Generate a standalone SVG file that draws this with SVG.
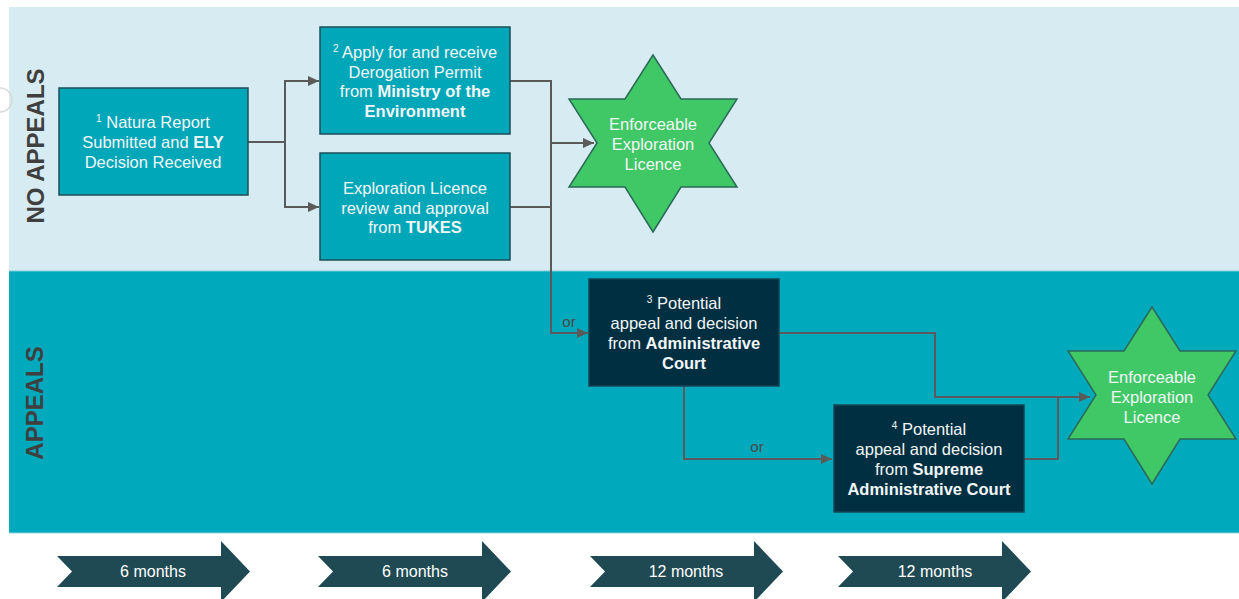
<svg xmlns="http://www.w3.org/2000/svg" width="1239" height="599" viewBox="0 0 1239 599">
<style>
text{font-family:"Liberation Sans",Arial,sans-serif}
.nt{font-size:16.5px;fill:#F2F6F7;text-anchor:middle}
.b{font-weight:bold}
.sup{font-size:10px}
.teal{fill:#00A7B9;stroke:#1E4D58;stroke-width:1.5}
.dark{fill:#002F42;stroke:#164556;stroke-width:1.5}
.star{fill:#40C866;stroke:#2A6A58;stroke-width:1.5}
.lane{font-size:24px;font-weight:bold;fill:#3F3F3F;text-anchor:middle}
.conn{fill:none;stroke:#5A5A5A;stroke-width:2}
.or{font-size:15px;fill:#4A4A4A;text-anchor:middle}
.chev{fill:#1F4A53}
.ct{font-size:16px;fill:#FFFFFF;text-anchor:middle}
</style>
<defs>
<marker id="ah" markerUnits="userSpaceOnUse" markerWidth="11" markerHeight="11" viewBox="0 0 10 10" refX="10" refY="5" orient="auto">
<path d="M0,0.5 L10,5 L0,9.5 Z" fill="#5A5A5A"/>
</marker>
<path id="starShape" d="M653,55 L681,99 L737,99 L709,143 L737,187 L681,187 L653,232 L625,187 L569,187 L597,143 L569,99 L625,99 Z"/>
<path id="chevShape" d="M57,556 H221 V541 L250,571.5 L221,602 V587 H57 L72,571.5 Z"/>
</defs>
<rect width="1239" height="599" fill="#FFFFFF"/>
<g id="lanes">
<rect x="9" y="7" width="1230" height="264" fill="#D7ECF2"/>
<rect x="9" y="271" width="1230" height="262" fill="#00A9BB"/>
<line x1="9" y1="271" x2="1239" y2="271" stroke="#7FCCD8" stroke-width="1"/>
<line x1="9" y1="533" x2="1239" y2="533" stroke="#8ED3DE" stroke-width="1"/>
<path d="M0,88 A12,12 0 0 1 0,112" fill="none" stroke="#D8D8D8" stroke-width="1.5"/>
<text class="lane" transform="translate(44,146) rotate(-90)">NO APPEALS</text>
<text class="lane" transform="translate(43,403) rotate(-90)">APPEALS</text>
</g>
<g id="connectors">
<path class="conn" d="M248,142 H285 V81 H319" marker-end="url(#ah)"/>
<path class="conn" d="M285,142 V207 H319" marker-end="url(#ah)"/>
<path class="conn" d="M510,81 H551 V333 H588" marker-end="url(#ah)"/>
<path class="conn" d="M510,207 H551"/>
<path class="conn" d="M551,143 H594" marker-end="url(#ah)"/>
<path class="conn" d="M779,333 H935 V397 H1090" marker-end="url(#ah)"/>
<path class="conn" d="M684,386 V459 H832" marker-end="url(#ah)"/>
<path class="conn" d="M1024,459 H1058 V397"/>
<text class="or" x="569" y="327">or</text>
<text class="or" x="757" y="452">or</text>
</g>
<g id="node1">
<rect class="teal" x="59" y="88" width="189" height="107"/>
<text class="nt" x="153" y="128"><tspan class="sup" dy="-6">1</tspan><tspan dy="6"> Natura Report</tspan></text>
<text class="nt" x="153" y="148">Submitted and <tspan class="b">ELY</tspan></text>
<text class="nt" x="153" y="168">Decision Received</text>
</g>
<g id="node2">
<rect class="teal" x="320" y="27" width="190" height="107"/>
<text class="nt" x="415" y="58"><tspan class="sup" dy="-6">2</tspan><tspan dy="6"> Apply for and receive</tspan></text>
<text class="nt" x="415" y="77.5">Derogation Permit</text>
<text class="nt" x="415" y="97">from <tspan class="b">Ministry of the</tspan></text>
<text class="nt" x="415" y="117" font-weight="bold">Environment</text>
</g>
<g id="node3">
<rect class="teal" x="320" y="153" width="190" height="107"/>
<text class="nt" x="415" y="194">Exploration Licence</text>
<text class="nt" x="415" y="213.5">review and approval</text>
<text class="nt" x="415" y="233">from <tspan class="b">TUKES</tspan></text>
</g>
<g id="star1">
<use href="#starShape" class="star"/>
<text class="nt" x="653" y="130">Enforceable</text>
<text class="nt" x="653" y="150">Exploration</text>
<text class="nt" x="653" y="170">Licence</text>
</g>
<g id="node4">
<rect class="dark" x="589" y="279" width="190" height="107"/>
<text class="nt" x="684" y="309"><tspan class="sup" dy="-6">3</tspan><tspan dy="6"> Potential</tspan></text>
<text class="nt" x="684" y="329">appeal and decision</text>
<text class="nt" x="684" y="349">from <tspan class="b">Administrative</tspan></text>
<text class="nt" x="684" y="369" font-weight="bold">Court</text>
</g>
<g id="node5">
<rect class="dark" x="834" y="405" width="190" height="107"/>
<text class="nt" x="929" y="435"><tspan class="sup" dy="-6">4</tspan><tspan dy="6"> Potential</tspan></text>
<text class="nt" x="929" y="455">appeal and decision</text>
<text class="nt" x="929" y="475">from <tspan class="b">Supreme</tspan></text>
<text class="nt" x="929" y="495" font-weight="bold">Administrative Court</text>
</g>
<g id="star2">
<use href="#starShape" class="star" transform="translate(499,252)"/>
<text class="nt" x="1152" y="383">Enforceable</text>
<text class="nt" x="1152" y="403">Exploration</text>
<text class="nt" x="1152" y="423">Licence</text>
</g>
<g id="timeline">
<g id="chev1"><use href="#chevShape" class="chev"/><text class="ct" x="153" y="577">6 months</text></g>
<g id="chev2"><use href="#chevShape" class="chev" transform="translate(261,0)"/><text class="ct" x="415" y="577">6 months</text></g>
<g id="chev3"><use href="#chevShape" class="chev" transform="translate(533,0)"/><text class="ct" x="686" y="577">12 months</text></g>
<g id="chev4"><use href="#chevShape" class="chev" transform="translate(781,0)"/><text class="ct" x="935" y="577">12 months</text></g>
</g>
</svg>
